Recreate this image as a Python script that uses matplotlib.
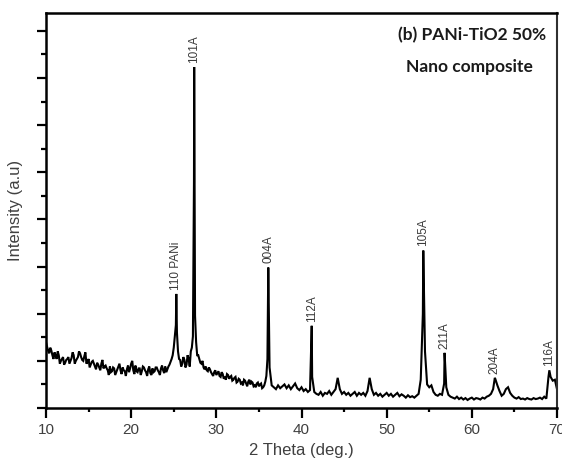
import numpy as np
import matplotlib
matplotlib.use("Agg")
import matplotlib.pyplot as plt
from matplotlib.ticker import MultipleLocator

# XRD pattern: background sampled every 0.25 deg from 10 to 70 deg
grid_start, grid_step = 10.0, 0.25
background = [
    700, 610, 640, 560,   # 10
    590, 520, 560, 500,   # 11
    540, 480, 520, 470,   # 12
    530, 560, 500, 540,   # 13
    580, 510, 550, 470,   # 14
    520, 460, 500, 440,   # 15
    480, 430, 470, 420,   # 16
    450, 400, 440, 390,   # 17
    420, 380, 440, 400,   # 18
    430, 390, 410, 380,   # 19
    470, 400, 450, 380,   # 20
    420, 390, 430, 380,   # 21
    410, 370, 420, 390,   # 22
    430, 380, 420, 400,   # 23
    440, 410, 460, 520,   # 24
    640, 880, 600, 510,   # 25
    470, 510, 460, 520,   # 26
    600, 760, 980, 560,   # 27
    520, 470, 430, 440,   # 28
    390, 410, 360, 380,   # 29
    350, 390, 330, 360,   # 30
    330, 360, 310, 340,   # 31
    300, 330, 280, 300,   # 32
    270, 300, 260, 280,   # 33
    250, 270, 240, 260,   # 34
    230, 260, 220, 280,   # 35
    520, 430, 240, 220,   # 36
    200, 240, 210, 230,   # 37
    250, 210, 240, 200,   # 38
    230, 260, 210, 190,   # 39
    220, 180, 200, 170,   # 40
    190, 330, 170, 150,   # 41
    140, 170, 130, 160,   # 42
    150, 180, 140, 170,   # 43
    200, 320, 200, 150,   # 44
    170, 140, 160, 130,   # 45
    150, 170, 130, 160,   # 46
    140, 160, 130, 180,   # 47
    320, 200, 140, 160,   # 48
    130, 150, 120, 140,   # 49
    160, 130, 150, 120,   # 50
    140, 160, 125, 145,   # 51
    130, 110, 135, 115,   # 52
    125, 110, 130, 150,   # 53
    300, 1000, 600, 250,  # 54
    220, 240, 170, 140,   # 55
    130, 150, 140, 260,   # 56
    220, 140, 120, 110,   # 57
    100, 120, 95, 110,    # 58
    90, 105, 85, 100,     # 59
    110, 90, 105, 100,    # 60
    90, 110, 100, 120,    # 61
    130, 150, 200, 310,   # 62
    240, 180, 130, 150,   # 63
    200, 220, 160, 130,   # 64
    110, 100, 115, 95,    # 65
    100, 90, 105, 95,     # 66
    90, 105, 95, 100,     # 67
    110, 95, 120, 100,    # 68
    330, 330, 290, 300,   # 69
    200,                  # 70
]

# Extra readings between grid points (10.125 ... 35.875 deg), noisy low-angle part
background_half = [
    650, 580, 610, 520,   # 10
    560, 600, 470, 520,   # 11
    460, 510, 540, 500,   # 12
    590, 470, 520, 600,   # 13
    540, 500, 590, 490,   # 14
    430, 490, 470, 410,   # 15
    460, 400, 510, 440,   # 16
    420, 350, 380, 430,   # 17
    350, 410, 470, 360,   # 18
    400, 340, 450, 420,   # 19
    500, 360, 390, 420,   # 20
    350, 440, 400, 340,   # 21
    440, 350, 380, 430,   # 22
    400, 350, 450, 370,   # 23
    380, 440, 490, 560,   # 24
    760, 800, 520, 440,   # 25
    540, 430, 560, 440,   # 26
    640, 2400, 700, 560,  # 27
    480, 500, 410, 400,   # 28
    430, 380, 340, 400,   # 29
    370, 340, 380, 310,   # 30
    300, 350, 330, 290,   # 31
    320, 270, 310, 260,   # 32
    240, 290, 230, 300,   # 33
    280, 230, 220, 270,   # 34
    250, 210, 240, 340,   # 35
]

# Indexed reflections (peak maxima)
peak_pos = [25.3, 27.4, 36.1, 41.2, 54.3, 56.8, 62.7, 69.1]
peak_height = [1210, 3617, 1490, 872, 1670, 585, 320, 400]
peak_label = ["110 PANi", "101A", "004A", "112A", "105A", "211A", "204A", "116A"]

x_ticks = [10, 20, 30, 40, 50, 60, 70]

grid_x = grid_start + grid_step * np.arange(len(background))
half_x = grid_start + grid_step / 2 + grid_step * np.arange(len(background_half))
two_theta = np.concatenate([grid_x, half_x, peak_pos])
intensity = np.concatenate([background, background_half, peak_height])
order = np.argsort(two_theta, kind="stable")
two_theta, intensity = two_theta[order], intensity[order]

plt.rcParams["font.family"] = ["Liberation Sans", "DejaVu Sans"]

W, H = 562, 461
fig = plt.figure(figsize=(W / 100, H / 100), dpi=100)
ax = fig.add_axes([46 / W, 1 - 408 / H, (557 - 46) / W, (408 - 13) / H])

ax.plot(two_theta, intensity, color="black", lw=1.5, solid_joinstyle="miter")

for pos, h, lab in zip(peak_pos, peak_height, peak_label):
    ax.annotate(lab, xy=(pos, h), xytext=(0, 3), textcoords="offset points",
                rotation=90, ha="center", va="bottom", fontsize=8.5,
                color="#3a3a3a")

ax.set_xlim(10, 70)
ax.set_ylim(0, 4190)
ax.set_xticks(x_ticks)
ax.xaxis.set_minor_locator(MultipleLocator(5))
ax.yaxis.set_major_locator(MultipleLocator(500))
ax.yaxis.set_minor_locator(MultipleLocator(250))
ax.set_yticklabels([])
ax.tick_params(axis="x", which="major", direction="out", length=7, width=1.6,
               labelsize=11, labelcolor="#404040", pad=4)
ax.tick_params(axis="x", which="minor", direction="out", length=3, width=1.6)
ax.tick_params(axis="y", which="major", direction="out", length=6.5, width=1.6,
               labelleft=False)
ax.tick_params(axis="y", which="minor", direction="out", length=3.5, width=1.6)

for side in ["left", "bottom", "top"]:
    ax.spines[side].set_linewidth(1.8)
    ax.spines[side].set_color("black")
ax.spines["right"].set_linewidth(1.5)
ax.spines["right"].set_color("#303030")

ax.set_xlabel("2 Theta (deg.)", fontsize=12, color="#404040", labelpad=4)
ax.set_ylabel("Intensity (a.u)", fontsize=12, color="#404040", labelpad=10)

ax.text(0.833, 0.944, "(b) PANi-TiO2 50%", transform=ax.transAxes,
        ha="center", va="center", fontsize=12.5, fontweight="bold",
        family=["Lato", "DejaVu Sans"], color="#1a1a1a")
ax.text(0.828, 0.863, "Nano composite", transform=ax.transAxes,
        ha="center", va="center", fontsize=12.5, fontweight="bold",
        family=["Lato", "DejaVu Sans"], color="#1a1a1a")

fig.savefig("out.png", dpi=100)
